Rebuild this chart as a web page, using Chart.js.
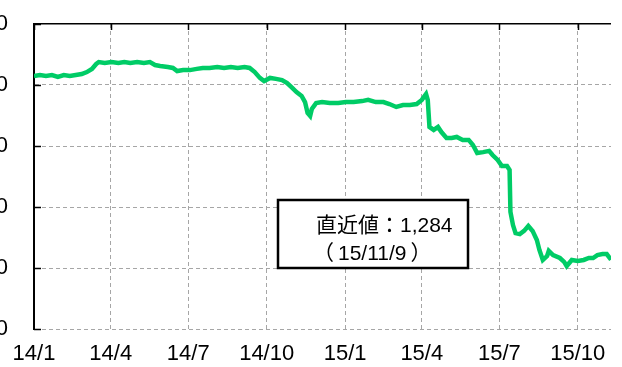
<!DOCTYPE html>
<html>
<head>
<meta charset="utf-8">
<script src="https://cdn.jsdelivr.net/npm/chart.js@4.4.1/dist/chart.umd.min.js"></script>
<style>
  html, body { margin: 0; padding: 0; background: #fff; overflow: hidden; }
  .chart-container { position: relative; width: 622px; height: 367px; overflow: hidden; }
  #price { position: absolute; left: -60px; top: 0; }
</style>
</head>
<body>
<div class="chart-container">
  <canvas id="price" width="682" height="367"></canvas>
</div>
<script>
// yy/m/d
const dates = [
  "14/1/1", "14/1/8", "14/1/15", "14/1/22", "14/1/29", "14/2/5", "14/2/12", "14/2/19",
  "14/2/26", "14/3/4", "14/3/10", "14/3/15", "14/3/18", "14/3/25", "14/4/2", "14/4/10",
  "14/4/17", "14/4/24", "14/5/2", "14/5/10", "14/5/17", "14/5/23", "14/5/29", "14/6/7",
  "14/6/13", "14/6/18", "14/6/25", "14/7/3", "14/7/11", "14/7/18", "14/7/26", "14/8/4",
  "14/8/12", "14/8/20", "14/8/28", "14/9/5", "14/9/11", "14/9/17", "14/9/23", "14/9/28",
  "14/10/5", "14/10/12", "14/10/19", "14/10/25", "14/10/31", "14/11/5", "14/11/11", "14/11/15",
  "14/11/18", "14/11/21", "14/11/23", "14/11/28", "14/12/5", "14/12/14", "14/12/24", "15/1/2",
  "15/1/11", "15/1/21", "15/1/28", "15/2/6", "15/2/15", "15/2/22", "15/3/2", "15/3/10",
  "15/3/18", "15/3/26", "15/4/1", "15/4/6", "15/4/8", "15/4/10", "15/4/15", "15/4/20",
  "15/4/24", "15/4/30", "15/5/6", "15/5/12", "15/5/19", "15/5/26", "15/5/31", "15/6/5",
  "15/6/12", "15/6/19", "15/6/23", "15/6/29", "15/7/4", "15/7/10", "15/7/13", "15/7/14",
  "15/7/17", "15/7/20", "15/7/25", "15/7/30", "15/8/4", "15/8/9", "15/8/14", "15/8/17",
  "15/8/21", "15/8/26", "15/8/28", "15/9/2", "15/9/10", "15/9/15", "15/9/18", "15/9/24",
  "15/10/1", "15/10/8", "15/10/14", "15/10/19", "15/10/24", "15/10/30", "15/11/4", "15/11/9",
];
const values = [
  2037, 2041, 2037, 2041, 2033, 2041, 2037, 2041,
  2045, 2053, 2066, 2086, 2094, 2090, 2094, 2090,
  2094, 2090, 2094, 2090, 2094, 2082, 2078, 2074,
  2070, 2057, 2061, 2061, 2066, 2070, 2070, 2074,
  2070, 2074, 2070, 2074, 2070, 2053, 2029, 2016,
  2029, 2025, 2020, 2008, 1988, 1971, 1955, 1930,
  1885, 1873, 1902, 1926, 1930, 1926, 1926, 1930,
  1930, 1934, 1939, 1930, 1930, 1922, 1910, 1918,
  1918, 1922, 1939, 1963, 1939, 1828, 1816, 1828,
  1807, 1783, 1783, 1787, 1775, 1775, 1754, 1721,
  1725, 1730, 1713, 1693, 1668, 1668, 1652, 1480,
  1426, 1393, 1389, 1402, 1422, 1402, 1365, 1324,
  1283, 1299, 1320, 1303, 1291, 1275, 1258, 1283,
  1279, 1283, 1291, 1291, 1303, 1307, 1307, 1284,
];

const tickDates = ["14/1/1", "14/4/1", "14/7/1", "14/10/1", "15/1/1", "15/4/1", "15/7/1", "15/10/1"];
const tickLabels = ["14/1", "14/4", "14/7", "14/10", "15/1", "15/4", "15/7", "15/10"];

const yMin = 1000;
const yMax = 2250;
const yStep = 250;

const lastDate = "15/11/9";

// days counted from 2014/1/1
const dayOffset = (s) => {
  const [yy, m, d] = s.split("/").map(Number);
  return (Date.UTC(2000 + yy, m - 1, d) - Date.UTC(2014, 0, 1)) / 86400000;
};

const points = dates.map((d, i) => ({ x: dayOffset(d), y: values[i] }));
const tickDays = tickDates.map(dayOffset);

const FONT = '"Liberation Sans", Arial, sans-serif';
const CJK_FONT = '"Noto Sans CJK JP", sans-serif';
const GRID = "#a6a6a6";

// black inward ticks, plus the latest-value box
const extras = {
  id: "extras",
  afterDraw(chart) {
    const { ctx, chartArea: area, scales: { x, y } } = chart;
    ctx.save();
    ctx.strokeStyle = "#000";
    ctx.lineWidth = 1.5;
    ctx.beginPath();
    y.ticks.forEach((t) => {
      const py = Math.round(y.getPixelForValue(t.value)) + 0.5;
      ctx.moveTo(area.left, py);
      ctx.lineTo(area.left + 7, py);
    });
    x.ticks.forEach((t) => {
      const px = Math.round(x.getPixelForValue(t.value)) + 0.5;
      ctx.moveTo(px, area.top);
      ctx.lineTo(px, area.top + 6);
    });
    ctx.stroke();

    const bx = area.left + 244;
    const by = area.top + 176;
    const bw = 190;
    const bh = 68;
    ctx.fillStyle = "#fff";
    ctx.fillRect(bx, by, bw, bh);
    ctx.lineWidth = 2.5;
    ctx.strokeRect(bx, by, bw, bh);

    const last = values[values.length - 1];
    ctx.fillStyle = "#000";
    ctx.textBaseline = "alphabetic";
    ctx.textAlign = "left";

    // 直近値：1,284
    let tx = bx + 38;
    ctx.font = "21px " + CJK_FONT;
    ctx.fillText("直近値：", tx, by + 32);
    tx += ctx.measureText("直近値：").width;
    ctx.font = "21px " + FONT;
    ctx.fillText(last.toLocaleString("en-US"), tx, by + 32);

    // （15/11/9）
    tx = bx + 55;
    ctx.font = "21px " + CJK_FONT;
    ctx.textAlign = "right";
    ctx.fillText("（", tx + 1, by + 60);
    ctx.textAlign = "left";
    ctx.font = "21px " + FONT;
    ctx.fillText(lastDate, tx + 5, by + 60);
    tx += 5 + ctx.measureText(lastDate).width;
    ctx.font = "21px " + CJK_FONT;
    ctx.fillText("）", tx + 4, by + 60);
    ctx.restore();
  },
};

new Chart(document.querySelector("#price").getContext("2d"), {
  type: "line",
  data: {
    datasets: [
      {
        data: points,
        borderColor: "#00cc66",
        borderWidth: 4.5,
        pointRadius: 0,
        tension: 0,
      },
    ],
  },
  options: {
    responsive: false,
    animation: false,
    devicePixelRatio: 1,
    layout: { padding: { left: 0, right: 11, top: 24, bottom: 0 } },
    plugins: { legend: { display: false }, tooltip: { enabled: false } },
    scales: {
      x: {
        type: "linear",
        min: 0,
        max: dayOffset(lastDate),
        afterBuildTicks: (scale) => {
          scale.ticks = tickDays.map((v) => ({ value: v }));
        },
        afterFit: (scale) => {
          scale.height = 38;
          scale.paddingLeft = 0;
          scale.paddingRight = 0;
        },
        ticks: {
          autoSkip: false,
          maxRotation: 0,
          padding: 12,
          color: "#000",
          font: { family: FONT, size: 22 },
          callback: (v, i) => tickLabels[i],
        },
        grid: {
          drawTicks: false,
          color: (c) => (c.tick && c.tick.value === 0 ? "#000" : GRID),
          lineWidth: 1,
        },
        border: { display: false, dash: [4, 3] },
      },
      y: {
        min: yMin,
        max: yMax,
        afterFit: (scale) => {
          scale.width = 94;
          scale.paddingTop = 0;
          scale.paddingBottom = 0;
        },
        ticks: {
          stepSize: yStep,
          padding: 26,
          color: "#000",
          font: { family: FONT, size: 22 },
          callback: (v) => v.toLocaleString("en-US"),
        },
        grid: {
          drawTicks: false,
          color: (c) => (c.tick && c.tick.value === yMax ? "#000" : GRID),
          lineWidth: (c) => (c.tick && c.tick.value === yMax ? 1.5 : 1),
        },
        border: {
          display: true,
          color: "#000",
          width: 2,
          dash: (c) => (c.tick && c.tick.value === yMax ? [] : [4, 3]),
        },
      },
    },
  },
  plugins: [extras],
});
</script>
</body>
</html>
